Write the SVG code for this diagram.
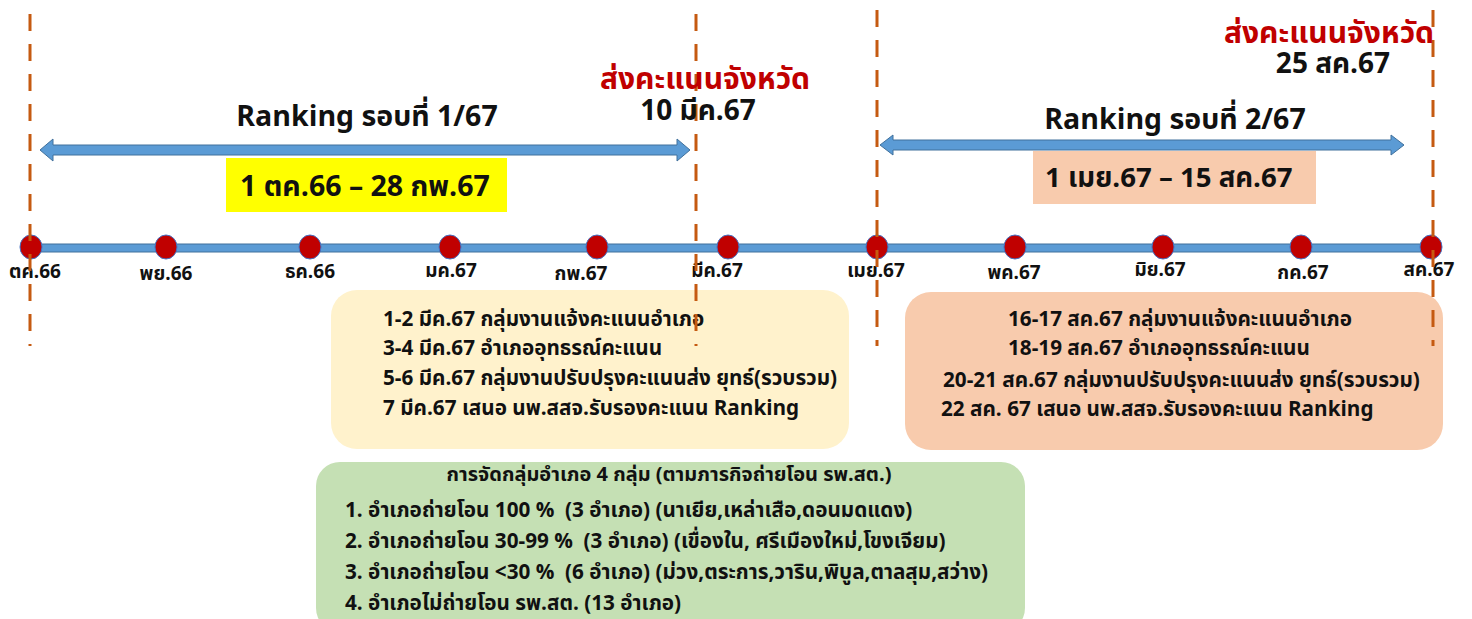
<svg xmlns="http://www.w3.org/2000/svg" width="1472" height="619" viewBox="0 0 1472 619">
<style>
text{font-family:"Noto Sans Thai","Noto Sans","DejaVu Sans",sans-serif;fill:#111;white-space:pre;}
.b{font-weight:bold;}
.red{fill:#C00000;font-weight:bold;}
.mon{font-size:19px;font-weight:bold;text-anchor:middle;}
.lst{font-size:20.7px;font-weight:bold;}
.ttl{font-size:20px;font-weight:bold;}
.dash{stroke:#C55A11;stroke-width:3;stroke-dasharray:17 13;fill:none;}
.dot{fill:#C00000;stroke:#4472C4;stroke-width:1;}
.arr{fill:#5B9BD5;stroke:#41719C;stroke-width:1;}
</style>
<rect width="1472" height="619" fill="#fff"/>
<g id="box-yellow">
<rect x="331" y="290" width="518" height="159" rx="26" fill="#FFF2CC"/>
<text class="lst" x="383" y="326">1-2 มีค.67 กลุ่มงานแจ้งคะแนนอำเภอ</text>
<text class="lst" x="383" y="355">3-4 มีค.67 อำเภออุทธรณ์คะแนน</text>
<text class="lst" x="383" y="385">5-6 มีค.67 กลุ่มงานปรับปรุงคะแนนส่ง ยุทธ์(รวบรวม)</text>
<text class="lst" x="383" y="415">7 มีค.67 เสนอ นพ.สสจ.รับรองคะแนน Ranking</text>
</g>
<g id="box-peach">
<rect x="905" y="292" width="538" height="158" rx="26" fill="#F8CBAD"/>
<text class="lst" x="1008" y="326">16-17 สค.67 กลุ่มงานแจ้งคะแนนอำเภอ</text>
<text class="lst" x="1008" y="355">18-19 สค.67 อำเภออุทธรณ์คะแนน</text>
<text class="lst" x="943" y="387">20-21 สค.67 กลุ่มงานปรับปรุงคะแนนส่ง ยุทธ์(รวบรวม)</text>
<text class="lst" x="941" y="416">22 สค. 67 เสนอ นพ.สสจ.รับรองคะแนน Ranking</text>
</g>
<g id="box-green">
<rect x="316" y="462" width="709" height="170" rx="24" fill="#C5E0B4"/>
<text class="ttl" x="669" y="481" text-anchor="middle">การจัดกลุ่มอำเภอ 4 กลุ่ม (ตามภารกิจถ่ายโอน รพ.สต.)</text>
<text class="lst" x="345" y="517">1. อำเภอถ่ายโอน 100 %  (3 อำเภอ) (นาเยีย,เหล่าเสือ,ดอนมดแดง)</text>
<text class="lst" x="345" y="548">2. อำเภอถ่ายโอน 30-99 %  (3 อำเภอ) (เขื่องใน, ศรีเมืองใหม่,โขงเจียม)</text>
<text class="lst" x="345" y="579">3. อำเภอถ่ายโอน &lt;30 %  (6 อำเภอ) (ม่วง,ตระการ,วาริน,พิบูล,ตาลสุม,สว่าง)</text>
<text class="lst" x="345" y="610">4. อำเภอไม่ถ่ายโอน รพ.สต. (13 อำเภอ)</text>
</g>
<g id="timeline">
<rect class="arr" x="30" y="244" width="1403" height="8"/>
<ellipse class="dot" cx="31" cy="247" rx="11" ry="12"/>
<ellipse class="dot" cx="166" cy="247" rx="11" ry="12"/>
<ellipse class="dot" cx="310" cy="247" rx="11" ry="12"/>
<ellipse class="dot" cx="450" cy="247" rx="11" ry="12"/>
<ellipse class="dot" cx="597" cy="247" rx="11" ry="12"/>
<ellipse class="dot" cx="728" cy="247" rx="11" ry="12"/>
<ellipse class="dot" cx="877" cy="247" rx="11" ry="12"/>
<ellipse class="dot" cx="1015" cy="247" rx="11" ry="12"/>
<ellipse class="dot" cx="1163" cy="247" rx="11" ry="12"/>
<ellipse class="dot" cx="1301" cy="247" rx="11" ry="12"/>
<ellipse class="dot" cx="1431" cy="247" rx="11" ry="12"/>
<text class="mon" x="35" y="278">ตค.66</text>
<text class="mon" x="166" y="280">พย.66</text>
<text class="mon" x="310" y="278">ธค.66</text>
<text class="mon" x="451" y="277">มค.67</text>
<text class="mon" x="581" y="280">กพ.67</text>
<text class="mon" x="717" y="277">มีค.67</text>
<text class="mon" x="876" y="277">เมย.67</text>
<text class="mon" x="1014" y="279">พค.67</text>
<text class="mon" x="1160" y="276">มิย.67</text>
<text class="mon" x="1303" y="279">กค.67</text>
<text class="mon" x="1429" y="276">สค.67</text>
</g>
<g id="connectors">
<line class="dash" x1="30" y1="14" x2="30" y2="346"/>
<line class="dash" x1="696" y1="14" x2="696" y2="346"/>
<line class="dash" x1="877" y1="10" x2="877" y2="346"/>
<line class="dash" x1="1433" y1="10" x2="1433" y2="346"/>
<path class="arr" d="M40,150 L53,139 L53,145 L677,145 L677,139 L690,150 L677,161 L677,155 L53,155 L53,161 Z"/>
<path class="arr" d="M880,145 L893,135 L893,140 L1391,140 L1391,135 L1404,145 L1391,155 L1391,150 L893,150 L893,155 Z"/>
</g>
<g id="round1">
<text class="b" x="367" y="126" font-size="28.5" text-anchor="middle">Ranking รอบที่ 1/67</text>
<rect x="226" y="158" width="281" height="54" fill="#FFFF00"/>
<text class="b" x="240" y="196" font-size="28.5">1 ตค.66 – 28 กพ.67</text>
</g>
<g id="send1">
<text class="red" x="705" y="89" font-size="30" text-anchor="middle">ส่งคะแนนจังหวัด</text>
<text class="b" x="698" y="120" font-size="28" text-anchor="middle">10 มีค.67</text>
</g>
<g id="round2">
<text class="b" x="1175" y="129" font-size="28.5" text-anchor="middle">Ranking รอบที่ 2/67</text>
<rect x="1033" y="151" width="283" height="53" fill="#F8CBAD"/>
<text class="b" x="1045" y="187" font-size="27.6">1 เมย.67 – 15 สค.67</text>
</g>
<g id="send2">
<text class="red" x="1329" y="43" font-size="30" text-anchor="middle">ส่งคะแนนจังหวัด</text>
<text class="b" x="1333" y="73" font-size="28" text-anchor="middle">25 สค.67</text>
</g>
</svg>
